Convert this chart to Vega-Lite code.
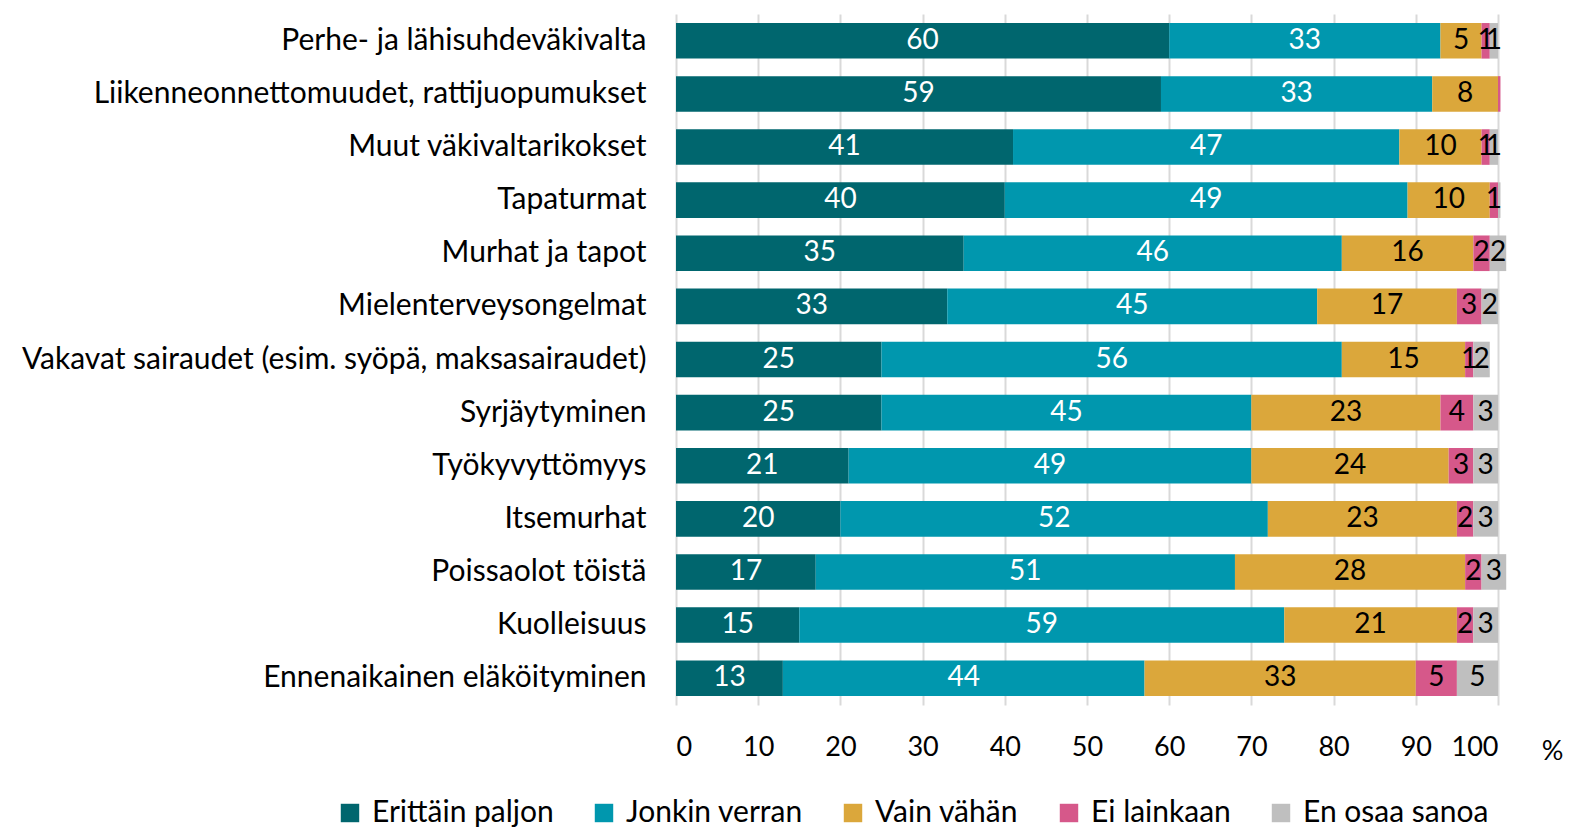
{
  "$schema": "https://vega.github.io/schema/vega-lite/v6.json",
  "width": 822,
  "height": 691,
  "autosize": {"type": "none"},
  "padding": {"left": 676, "top": 14, "right": 72, "bottom": 122},
  "config": {
    "font": "Lato",
    "view": {"stroke": null},
    "background": "white"
  },
  "data": {
    "values": [
      {"k": "Perhe- ja lähisuhdeväkivalta", "s": "Erittäin paljon", "o": 1, "v": 60},
      {"k": "Perhe- ja lähisuhdeväkivalta", "s": "Jonkin verran", "o": 2, "v": 33},
      {"k": "Perhe- ja lähisuhdeväkivalta", "s": "Vain vähän", "o": 3, "v": 5},
      {"k": "Perhe- ja lähisuhdeväkivalta", "s": "Ei lainkaan", "o": 4, "v": 1},
      {"k": "Perhe- ja lähisuhdeväkivalta", "s": "En osaa sanoa", "o": 5, "v": 1},
      {"k": "Liikenneonnettomuudet, rattijuopumukset", "s": "Erittäin paljon", "o": 1, "v": 59},
      {"k": "Liikenneonnettomuudet, rattijuopumukset", "s": "Jonkin verran", "o": 2, "v": 33},
      {"k": "Liikenneonnettomuudet, rattijuopumukset", "s": "Vain vähän", "o": 3, "v": 8},
      {"k": "Liikenneonnettomuudet, rattijuopumukset", "s": "Ei lainkaan", "o": 4, "v": 0.3},
      {"k": "Muut väkivaltarikokset", "s": "Erittäin paljon", "o": 1, "v": 41},
      {"k": "Muut väkivaltarikokset", "s": "Jonkin verran", "o": 2, "v": 47},
      {"k": "Muut väkivaltarikokset", "s": "Vain vähän", "o": 3, "v": 10},
      {"k": "Muut väkivaltarikokset", "s": "Ei lainkaan", "o": 4, "v": 1},
      {"k": "Muut väkivaltarikokset", "s": "En osaa sanoa", "o": 5, "v": 1},
      {"k": "Tapaturmat", "s": "Erittäin paljon", "o": 1, "v": 40},
      {"k": "Tapaturmat", "s": "Jonkin verran", "o": 2, "v": 49},
      {"k": "Tapaturmat", "s": "Vain vähän", "o": 3, "v": 10},
      {"k": "Tapaturmat", "s": "Ei lainkaan", "o": 4, "v": 1},
      {"k": "Tapaturmat", "s": "En osaa sanoa", "o": 5, "v": 0.3},
      {"k": "Murhat ja tapot", "s": "Erittäin paljon", "o": 1, "v": 35},
      {"k": "Murhat ja tapot", "s": "Jonkin verran", "o": 2, "v": 46},
      {"k": "Murhat ja tapot", "s": "Vain vähän", "o": 3, "v": 16},
      {"k": "Murhat ja tapot", "s": "Ei lainkaan", "o": 4, "v": 2},
      {"k": "Murhat ja tapot", "s": "En osaa sanoa", "o": 5, "v": 2},
      {"k": "Mielenterveysongelmat", "s": "Erittäin paljon", "o": 1, "v": 33},
      {"k": "Mielenterveysongelmat", "s": "Jonkin verran", "o": 2, "v": 45},
      {"k": "Mielenterveysongelmat", "s": "Vain vähän", "o": 3, "v": 17},
      {"k": "Mielenterveysongelmat", "s": "Ei lainkaan", "o": 4, "v": 3},
      {"k": "Mielenterveysongelmat", "s": "En osaa sanoa", "o": 5, "v": 2},
      {"k": "Vakavat sairaudet (esim. syöpä, maksasairaudet)", "s": "Erittäin paljon", "o": 1, "v": 25},
      {"k": "Vakavat sairaudet (esim. syöpä, maksasairaudet)", "s": "Jonkin verran", "o": 2, "v": 56},
      {"k": "Vakavat sairaudet (esim. syöpä, maksasairaudet)", "s": "Vain vähän", "o": 3, "v": 15},
      {"k": "Vakavat sairaudet (esim. syöpä, maksasairaudet)", "s": "Ei lainkaan", "o": 4, "v": 1},
      {"k": "Vakavat sairaudet (esim. syöpä, maksasairaudet)", "s": "En osaa sanoa", "o": 5, "v": 2},
      {"k": "Syrjäytyminen", "s": "Erittäin paljon", "o": 1, "v": 25},
      {"k": "Syrjäytyminen", "s": "Jonkin verran", "o": 2, "v": 45},
      {"k": "Syrjäytyminen", "s": "Vain vähän", "o": 3, "v": 23},
      {"k": "Syrjäytyminen", "s": "Ei lainkaan", "o": 4, "v": 4},
      {"k": "Syrjäytyminen", "s": "En osaa sanoa", "o": 5, "v": 3},
      {"k": "Työkyvyttömyys", "s": "Erittäin paljon", "o": 1, "v": 21},
      {"k": "Työkyvyttömyys", "s": "Jonkin verran", "o": 2, "v": 49},
      {"k": "Työkyvyttömyys", "s": "Vain vähän", "o": 3, "v": 24},
      {"k": "Työkyvyttömyys", "s": "Ei lainkaan", "o": 4, "v": 3},
      {"k": "Työkyvyttömyys", "s": "En osaa sanoa", "o": 5, "v": 3},
      {"k": "Itsemurhat", "s": "Erittäin paljon", "o": 1, "v": 20},
      {"k": "Itsemurhat", "s": "Jonkin verran", "o": 2, "v": 52},
      {"k": "Itsemurhat", "s": "Vain vähän", "o": 3, "v": 23},
      {"k": "Itsemurhat", "s": "Ei lainkaan", "o": 4, "v": 2},
      {"k": "Itsemurhat", "s": "En osaa sanoa", "o": 5, "v": 3},
      {"k": "Poissaolot töistä", "s": "Erittäin paljon", "o": 1, "v": 17},
      {"k": "Poissaolot töistä", "s": "Jonkin verran", "o": 2, "v": 51},
      {"k": "Poissaolot töistä", "s": "Vain vähän", "o": 3, "v": 28},
      {"k": "Poissaolot töistä", "s": "Ei lainkaan", "o": 4, "v": 2},
      {"k": "Poissaolot töistä", "s": "En osaa sanoa", "o": 5, "v": 3},
      {"k": "Kuolleisuus", "s": "Erittäin paljon", "o": 1, "v": 15},
      {"k": "Kuolleisuus", "s": "Jonkin verran", "o": 2, "v": 59},
      {"k": "Kuolleisuus", "s": "Vain vähän", "o": 3, "v": 21},
      {"k": "Kuolleisuus", "s": "Ei lainkaan", "o": 4, "v": 2},
      {"k": "Kuolleisuus", "s": "En osaa sanoa", "o": 5, "v": 3},
      {"k": "Ennenaikainen eläköityminen", "s": "Erittäin paljon", "o": 1, "v": 13},
      {"k": "Ennenaikainen eläköityminen", "s": "Jonkin verran", "o": 2, "v": 44},
      {"k": "Ennenaikainen eläköityminen", "s": "Vain vähän", "o": 3, "v": 33},
      {"k": "Ennenaikainen eläköityminen", "s": "Ei lainkaan", "o": 4, "v": 5},
      {"k": "Ennenaikainen eläköityminen", "s": "En osaa sanoa", "o": 5, "v": 5}
    ]
  },
  "encoding": {
    "y": {
      "field": "k",
      "type": "nominal",
      "sort": null,
      "scale": {"paddingInner": 0.33, "paddingOuter": 0.17},
      "axis": {
        "title": null,
        "labelFontSize": 30,
        "labelColor": "#000000",
        "labelPadding": 30,
        "labelLimit": 700,
        "ticks": false,
        "domain": false
      }
    }
  },
  "layer": [
    {
      "mark": {"type": "bar"},
      "encoding": {
        "x": {
          "field": "v",
          "type": "quantitative",
          "stack": "zero",
          "scale": {"domain": [0, 100], "nice": false},
          "axis": {
            "values": [0, 10, 20, 30, 40, 50, 60, 70, 80, 90, 100],
            "labelFontSize": 27,
            "labelColor": "#000000",
            "labelPadding": 29,
            "ticks": false,
            "domain": false,
            "grid": true,
            "gridColor": "#d9d9d9",
            "gridWidth": 2,
            "title": "%",
            "titleFontSize": 27,
            "titleFontWeight": "normal",
            "titleColor": "#000000",
            "titleX": 876,
            "titleY": 46,
            "titleAlign": "center",
            "titleBaseline": "middle"
          }
        },
        "order": {"field": "o", "type": "quantitative"},
        "color": {
          "field": "s",
          "type": "nominal",
          "scale": {
            "domain": ["Erittäin paljon", "Jonkin verran", "Vain vähän", "Ei lainkaan", "En osaa sanoa"],
            "range": ["#00666e", "#0097ae", "#dba73b", "#d6588a", "#bfbfbf"]
          },
          "legend": {
            "title": null,
            "orient": "none",
            "direction": "horizontal",
            "legendX": -341,
            "legendY": 784,
            "symbolType": "square",
            "symbolSize": 340,
            "symbolStrokeWidth": 0,
            "labelFontSize": 30,
            "labelColor": "#000000",
            "labelOffset": 7,
            "columnPadding": 35,
            "labelLimit": 400
          }
        }
      }
    },
    {
      "transform": [{"filter": "datum.v >= 0.5"}],
      "mark": {"type": "text", "fontSize": 28, "baseline": "middle", "align": "center"},
      "encoding": {
        "x": {"field": "v", "type": "quantitative", "stack": "zero", "bandPosition": 0.5},
        "order": {"field": "o", "type": "quantitative"},
        "text": {"field": "v", "type": "quantitative", "format": ".0f"},
        "color": {
          "condition": {"test": "datum.o <= 2", "value": "white"},
          "value": "black"
        }
      }
    }
  ]
}
